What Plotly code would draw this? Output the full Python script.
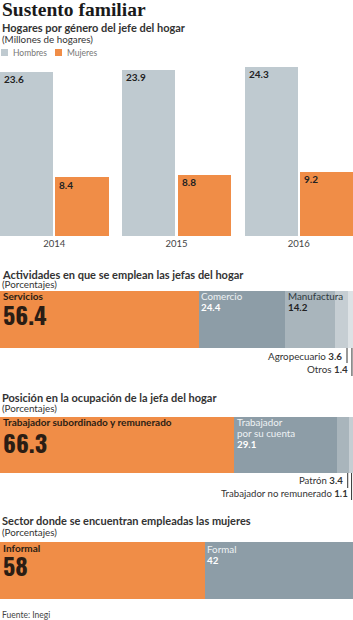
import plotly.graph_objects as go

# ---------------- data ----------------
years = ["2014", "2015", "2016"]
hombres = [23.6, 23.9, 24.3]
mujeres = [8.4, 8.8, 9.2]
legend_names = ["Hombres", "Mujeres"]

act_labels = ["Servicios", "Comercio", "Manufactura", "Agropecuario", "Otros"]
act_values = [56.4, 24.4, 14.2, 3.6, 1.4]

pos_labels = ["Trabajador subordinado y remunerado", "Trabajador por su cuenta", "Patrón", "Trabajador no remunerado"]
pos_label_lines = ["Trabajador", "por su cuenta"]
pos_values = [66.3, 29.1, 3.4, 1.1]

sec_labels = ["Informal", "Formal"]
sec_values = [58, 42]

# ---------------- style ----------------
W, H = 353, 620
ORANGE = "#f08d47"
HOMBRES = "#bfcad0"
GREYS = ["#8d9da7", "#a9b5bc", "#c6ced3", "#dde2e5"]
DARK = "#2b1d14"
TXT = "#333333"
SANS = "Lato, 'Open Sans', sans-serif"
BIG = "Oswald, 'Roboto Condensed', sans-serif"


def py(pix):
    return 1 - pix / H


fig = go.Figure()

# ---------- column chart ----------
GW = 0.8875
BW = 0.435
xh = [i - GW / 2 + BW / 2 for i in range(len(years))]
xm = [i + GW / 2 - BW / 2 for i in range(len(years))]
fig.add_trace(go.Bar(x=xh, y=hombres, width=BW, name=legend_names[0], marker_color=HOMBRES,
                     marker_line_width=0, xaxis="x", yaxis="y", hoverinfo="skip", showlegend=False))
fig.add_trace(go.Bar(x=xm, y=mujeres, width=BW, name=legend_names[1], marker_color=ORANGE,
                     marker_line_width=0, xaxis="x", yaxis="y", hoverinfo="skip", showlegend=False))

ann = []
shapes = []
for xs, vals in ((xh, hombres), (xm, mujeres)):
    for x, v in zip(xs, vals):
        ann.append(dict(x=x - BW / 2, y=v, xref="x", yref="y", text=f"<b>{v}</b>",
                        xanchor="left", yanchor="middle", xshift=2, yshift=-7,
                        showarrow=False, font=dict(family=SANS, size=10, color="#222")))

# legend (manual, compact)
for i, (nm, col) in enumerate(zip(legend_names, [HOMBRES, ORANGE])):
    x0 = 1 + i * 54
    shapes.append(dict(type="rect", xref="paper", yref="paper", x0=x0 / W, x1=(x0 + 7) / W,
                       y0=py(56), y1=py(49), fillcolor=col, line=dict(width=0)))
    ann.append(dict(x=(x0 + 10) / W, y=py(52.5), xref="paper", yref="paper", text=nm,
                    xanchor="left", yanchor="middle", showarrow=False,
                    font=dict(family=SANS, size=8.5, color="#777")))


def hbar(values, labels, colors, axis_id):
    xa = "x" + str(axis_id)
    ya = "y" + str(axis_id)
    for v, lab, c in zip(values, labels, colors):
        fig.add_trace(go.Bar(x=[v], y=[0], orientation="h", width=1, marker_color=c,
                             marker_line_width=0, name=lab, showlegend=False,
                             xaxis=xa, yaxis=ya, hoverinfo="skip"))


def cum(values):
    out, s = [], 0
    for v in values:
        out.append(s)
        s += v
    return out


hbar(act_values, act_labels, [ORANGE] + GREYS, 2)
hbar(pos_values, pos_labels, [ORANGE] + GREYS[:3], 3)
hbar(sec_values, sec_labels, [ORANGE, GREYS[0]], 4)

ca = cum(act_values)
cp = cum(pos_values)
cs = cum(sec_values)


def lab(x, xref, ypix, text, size=10, color=TXT, family=SANS, xanchor="left", xshift=3):
    ann.append(dict(x=x, y=py(ypix), xref=xref, yref="paper", text=text, xanchor=xanchor,
                    yanchor="middle", xshift=xshift, showarrow=False,
                    font=dict(family=family, size=size, color=color)))


LIGHT = "#eef2f4"
# section 2 labels
lab(ca[0], "x2", 296, "<b>" + act_labels[0] + "</b>", 10, DARK, xshift=1)
lab(ca[0], "x2", 314, "<b>" + str(act_values[0]) + "</b>", 24, DARK, BIG, xshift=1)
lab(ca[1], "x2", 296, act_labels[1], 9.8, LIGHT, xshift=0)
lab(ca[1], "x2", 306.5, "<b>" + str(act_values[1]) + "</b>", 9.8, "#ffffff", xshift=0)
lab(ca[2], "x2", 296, act_labels[2], 9.8, "#2f3a40", xshift=1)
lab(ca[2], "x2", 306.5, "<b>" + str(act_values[2]) + "</b>", 9.8, "#222", xshift=1)
lab(ca[3] + act_values[3], "x2", 356, act_labels[3] + " <b>" + str(act_values[3]) + "</b>", 9.8, TXT, xanchor="right", xshift=-4)
lab(ca[4] + act_values[4], "x2", 369, act_labels[4] + " <b>" + str(act_values[4]) + "</b>", 9.8, TXT, xanchor="right", xshift=-3)

# section 3 labels
lab(cp[0], "x3", 422.5, "<b>" + pos_labels[0] + "</b>", 10, DARK, xshift=1)
lab(cp[0], "x3", 442, "<b>" + str(pos_values[0]) + "</b>", 24, DARK, BIG, xshift=1)
lab(cp[1], "x3", 422.5, pos_label_lines[0], 9.8, LIGHT, xshift=1)
lab(cp[1], "x3", 433, pos_label_lines[1], 9.8, LIGHT, xshift=1)
lab(cp[1], "x3", 443.5, "<b>" + str(pos_values[1]) + "</b>", 9.8, "#ffffff", xshift=1)
lab(cp[2] + pos_values[2], "x3", 480.5, pos_labels[2] + " <b>" + str(pos_values[2]) + "</b>", 9.6, TXT, xanchor="right", xshift=-4)
lab(cp[3] + pos_values[3], "x3", 493, pos_labels[3] + " <b>" + str(pos_values[3]) + "</b>", 9.6, TXT, xanchor="right", xshift=-3)

# section 4 labels
lab(cs[0], "x4", 548, "<b>" + sec_labels[0] + "</b>", 10, DARK, xshift=1)
lab(cs[0], "x4", 565, "<b>" + str(sec_values[0]) + "</b>", 24, DARK, BIG, xshift=1)
lab(cs[1], "x4", 549, sec_labels[1], 9.8, LIGHT, xshift=0)
lab(cs[1], "x4", 559.5, "<b>" + str(sec_values[1]) + "</b>", 9.8, "#ffffff", xshift=0)


def title(ypix, text, size, family=SANS, color=TXT):
    ann.append(dict(x=0, y=py(ypix), xref="paper", yref="paper", text=text, xanchor="left",
                    yanchor="middle", showarrow=False, font=dict(family=family, size=size, color=color)))


title(10, "<b>Sustento familiar</b>", 19.5, "'Liberation Serif', serif", "#1a1a1a")
title(27.5, "<b>Hogares por género del jefe del hogar</b>", 11)
title(39, "(Millones de hogares)", 9.8)
title(274.5, "<b>Actividades en que se emplean las jefas del hogar</b>", 11)
title(284, "(Porcentajes)", 9.8)
title(397.5, "<b>Posición en la ocupación de la jefa del hogar</b>", 11)
title(408, "(Porcentajes)", 9.8)
title(520.5, "<b>Sector donde se encuentran empleadas las mujeres</b>", 11)
title(532, "(Porcentajes)", 9.8)
title(615, "Fuente: Inegi", 8.5, SANS, "#444")


def leader(x, xref, y0, y1):
    shapes.append(dict(type="line", xref=xref, yref="paper", x0=x, x1=x, y0=py(y0), y1=py(y1),
                       line=dict(color="#333", width=1)))


leader(ca[3] + act_values[3] - 0.3, "x2", 348, 363)
leader(ca[4] + act_values[4] - 0.3, "x2", 348, 376)
leader(cp[2] + pos_values[2] - 0.3, "x3", 473, 488)
leader(cp[3] + pos_values[3] - 0.3, "x3", 473, 500)

hid = dict(visible=False, fixedrange=True)
fig.update_layout(
    width=W, height=H, margin=dict(l=0, r=0, t=0, b=0, autoexpand=False),
    paper_bgcolor="white", plot_bgcolor="white",
    barmode="stack", bargap=0,
    showlegend=False,
    xaxis=dict(domain=[0, 1], range=[-GW / 2, len(years) - 1 + GW / 2], tickvals=list(range(len(years))),
               ticktext=years, showgrid=False, zeroline=False, showline=False, ticks="",
               tickfont=dict(family=SANS, size=9.5, color="#444"), fixedrange=True, anchor="y"),
    yaxis=dict(domain=[py(236), py(62.25)], range=[0, 25], visible=False, fixedrange=True),
    xaxis2=dict(domain=[0, 1], range=[0, 100], anchor="y2", **hid),
    yaxis2=dict(domain=[py(348), py(291)], range=[-0.5, 0.5], anchor="x2", **hid),
    xaxis3=dict(domain=[0, 1], range=[0, 100], anchor="y3", **hid),
    yaxis3=dict(domain=[py(473), py(417)], range=[-0.5, 0.5], anchor="x3", **hid),
    xaxis4=dict(domain=[0, 1], range=[0, 100], anchor="y4", **hid),
    yaxis4=dict(domain=[py(599), py(542)], range=[-0.5, 0.5], anchor="x4", **hid),
    annotations=ann, shapes=shapes,
)

fig.write_html("out.html")
